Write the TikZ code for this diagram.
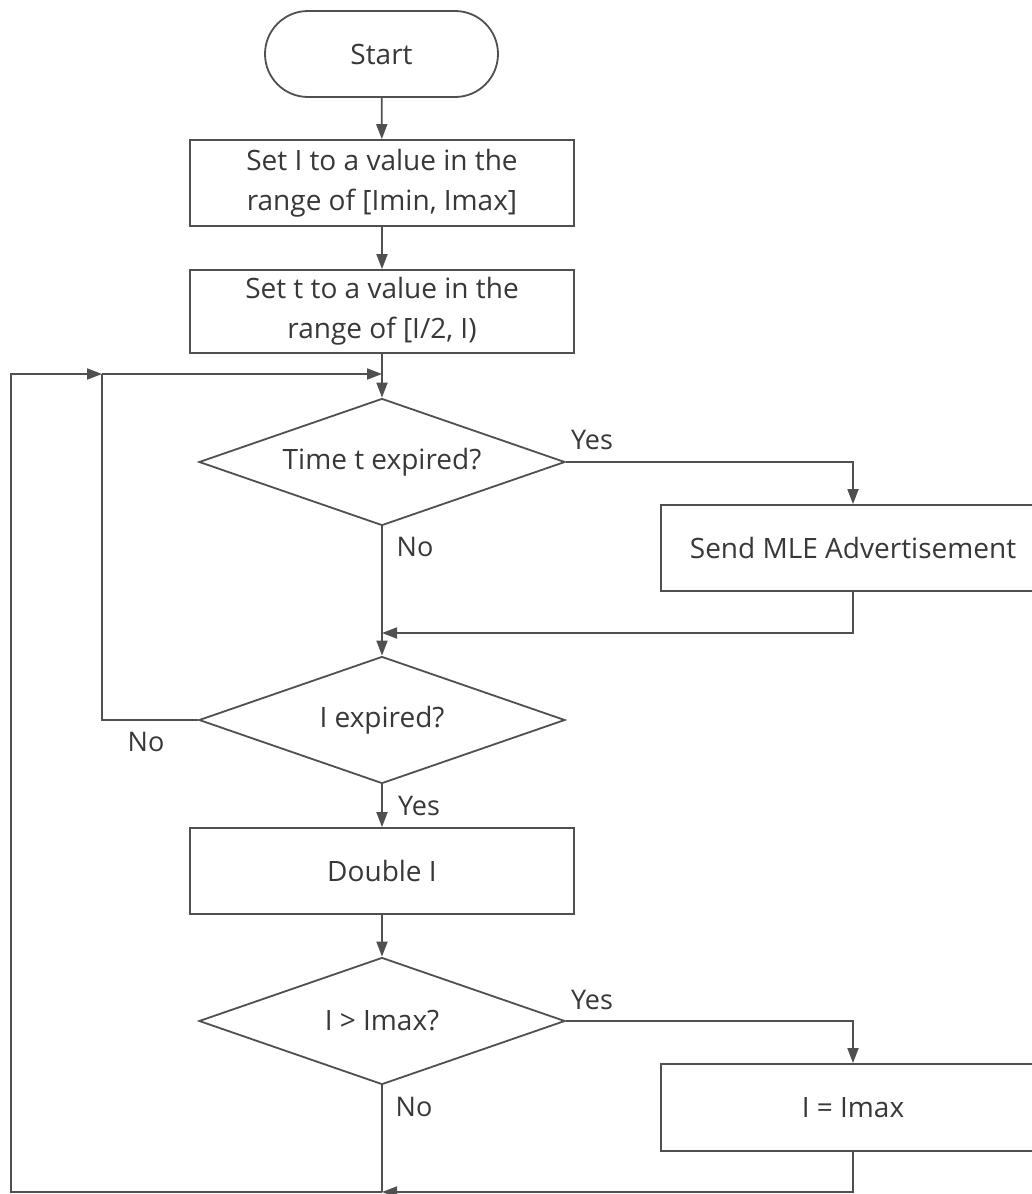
\documentclass[tikz,border=0pt]{standalone}
\usepackage{fontspec}
\setmainfont{Open Sans}
\usetikzlibrary{shapes.geometric,arrows.meta}

\definecolor{ink}{HTML}{383838}
\definecolor{wire}{HTML}{505050}

\tikzset{
  base/.style={draw=wire, line width=1.8pt, text=ink, font=\fontsize{28}{40}\selectfont, align=center, inner sep=0pt},
  procbox/.style={base, rectangle, minimum width=384pt, minimum height=86pt},
  terminal/.style={base, rectangle, rounded corners=43pt, minimum width=233pt, minimum height=86pt},
  decision/.style={base, diamond, shape aspect=2.9, minimum width=366pt, minimum height=127pt},
  tag/.style={text=ink, font=\fontsize{27}{30}\selectfont, inner sep=0pt},
  flow/.style={draw=wire, line width=1.8pt, -{Triangle[length=15pt,width=11pt]}},
  plain/.style={draw=wire, line width=1.8pt}
}

\begin{document}
\begin{tikzpicture}[x=1pt, y=-1pt]
  \clip (0,0) rectangle (1032,1194);
  \fill[white] (0,0) rectangle (1032,1194);

  % main column
  \node[terminal] (start) at (381.5,54) {Start};
  \node[procbox]  (setI)  at (382,183) {Set I to a value in the\\range of [Imin, Imax]};
  \node[procbox, minimum height=83pt] (sett) at (382,311.5) {Set t to a value in the\\range of [I/2, I)};
  \node[decision] (tq)    at (382,462) {Time t expired?};
  \node[decision] (iq)    at (382,720) {I expired?};
  \node[procbox]  (dbl)   at (382,871) {Double I};
  \node[decision] (mq)    at (382,1021) {I > Imax?};

  % right column
  \node[procbox]  (send)  at (853,548) {Send MLE Advertisement};
  \node[procbox, minimum height=87pt] (cap) at (853,1107.5) {I = Imax};

  % routing points
  \coordinate (join)  at (382,374);
  \coordinate (inner) at (102,374);
  \coordinate (outtop) at (11,374);
  \coordinate (outbot) at (11,1192);
  \coordinate (merge) at (382,633);
  \coordinate (bottom) at (382,1192);

  % connectors
  \draw[flow] (start) -- (setI);
  \draw[flow] (setI) -- (sett);
  \draw[flow] (sett) -- (tq);
  \draw[flow] (inner) -- (join);
  \draw[flow] (tq.east) -| (send.north);
  \draw[flow] (send.south) |- (merge);
  \draw[flow] (tq.south) -- (iq.north);
  \draw[plain] (iq.west) -| (inner);
  \draw[flow] (iq.south) -- (dbl);
  \draw[flow] (dbl) -- (mq);
  \draw[flow] (mq.east) -| (cap.north);
  \draw[plain] (mq.south) -- (bottom);
  \draw[flow] (cap.south) |- (bottom);
  \draw[flow] (bottom) -- (outbot) -- (outtop) -- (inner);

  % branch labels
  \node[tag] (yes1) at (592,440) {Yes};
  \node[tag] (no1)  at (415,547) {No};
  \node[tag] (no2)  at (146,742) {No};
  \node[tag] (yes2) at (419,806) {Yes};
  \node[tag] (yes3) at (592,1000) {Yes};
  \node[tag] (no3)  at (414,1107) {No};
\end{tikzpicture}
\end{document}
